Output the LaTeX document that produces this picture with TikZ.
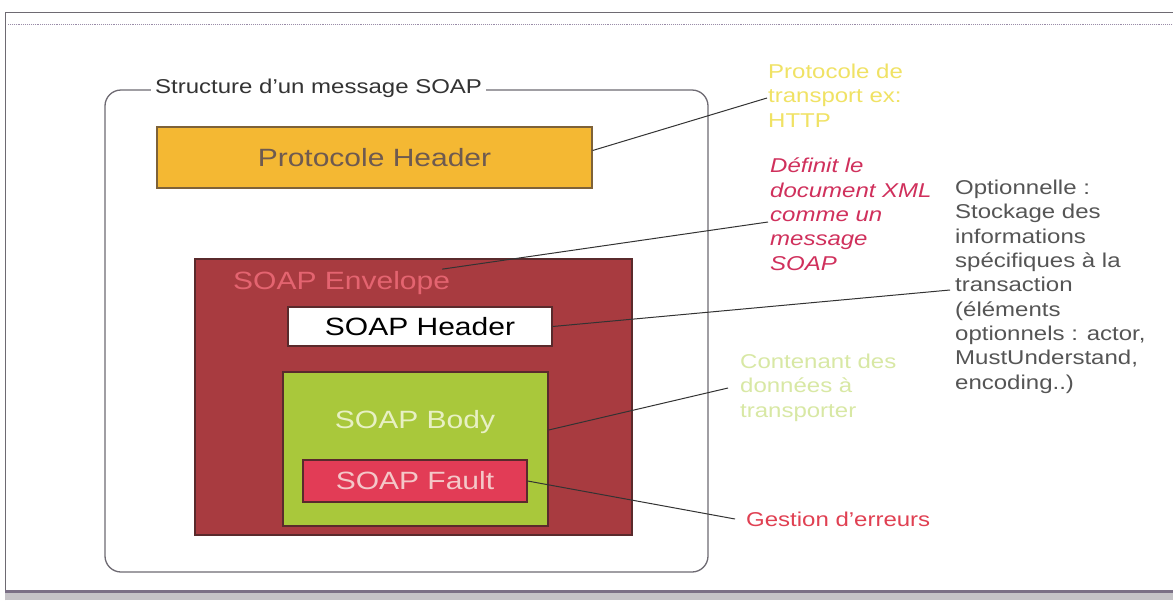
\documentclass[tikz,border=0pt]{standalone}
\usepackage{fontspec}
\setmainfont{Liberation Sans}[FakeStretch=1.2]
\definecolor{framegray}{HTML}{6E6A72}
\definecolor{framepurple}{HTML}{9A8CA8}
\definecolor{linegray}{HTML}{333333}
\definecolor{protofill}{HTML}{F4B833}
\definecolor{protoedge}{HTML}{7E6238}
\definecolor{prototext}{HTML}{6E5A50}
\definecolor{envfill}{HTML}{A83B40}
\definecolor{envedge}{HTML}{5A2A2C}
\definecolor{envtext}{HTML}{E46470}
\definecolor{bodyfill}{HTML}{A9C83B}
\definecolor{bodytext}{HTML}{E8F0C4}
\definecolor{faultfill}{HTML}{E23C56}
\definecolor{faulttext}{HTML}{F4C8C8}
\definecolor{notehttp}{HTML}{F0E264}
\definecolor{notexml}{HTML}{D0305C}
\definecolor{noteopt}{HTML}{555555}
\definecolor{notebody}{HTML}{D8E8A4}
\definecolor{noteerr}{HTML}{E04052}
\begin{document}
\begin{tikzpicture}[x=1pt,y=-1pt,
  part/.style={draw, line width=1.3pt, inner sep=0pt, font=\fontsize{25}{30}\selectfont},
  note/.style={anchor=north west, inner sep=0pt, align=left, font=\fontsize{20}{24.3}\selectfont},
  link/.style={draw=linegray, line width=1pt}]
\useasboundingbox (0,0) rectangle (1173,600);
\fill[white] (0,0) rectangle (1173,600);

% page frame
\draw[framegray, line width=1pt] (5,600) -- (5,12) -- (1173,12);
\draw[framepurple, line width=0.9pt, densely dotted] (8,24) -- (1173,24);
\fill[framegray!40] (5,593) rectangle (1173,600);
\draw[framepurple!80!black, line width=3pt] (5,591.5) -- (1173,591.5);

% message container
\node[draw=framegray, line width=1.3pt, rounded corners=16pt, minimum width=603pt, minimum height=482pt, inner sep=0pt]
  (msg) at (406.5,331) {};
\node[fill=white, inner xsep=4pt, inner ysep=2pt, anchor=west, font=\fontsize{20}{24}\selectfont, text=linegray]
  (title) at (151,88) {Structure d'un message SOAP};

% protocol header
\node[part, draw=protoedge, fill=protofill, text=prototext, minimum width=435pt, minimum height=61pt]
  (ph) at (374.5,157.5) {Protocole Header};

% SOAP envelope and its parts
\node[part, draw=envedge, fill=envfill, minimum width=437pt, minimum height=276pt]
  (env) at (413.5,397) {};
\node[anchor=west, inner sep=0pt, text=envtext, font=\fontsize{25}{30}\selectfont]
  (envlabel) at (233,283) {SOAP Envelope};
\node[part, draw=envedge, fill=white, text=black, minimum width=264pt, minimum height=39pt]
  (sh) at (420,326.5) {SOAP Header};
\node[part, draw=envedge, fill=bodyfill, minimum width=265pt, minimum height=154pt]
  (body) at (415.5,449) {};
\node[inner sep=0pt, text=bodytext, font=\fontsize{25}{30}\selectfont]
  (bodylabel) at (415,422) {SOAP Body};
\node[part, draw=envedge, fill=faultfill, text=faulttext, minimum width=224pt, minimum height=42pt]
  (fault) at (415,481) {SOAP Fault};

% side notes
\node[note, text=notehttp] (nhttp) at (768,64) {Protocole de\\transport ex:\\HTTP};
\node[note, text=notexml, font=\fontsize{20}{24.3}\selectfont\itshape] (nxml) at (770,158) {Définit le\\document XML\\comme un\\message\\SOAP};
\node[note, text=noteopt] (nopt) at (955,180) {Optionnelle :\\Stockage des\\informations\\spécifiques à la\\transaction\\(éléments\\optionnels : actor,\\MustUnderstand,\\encoding..)};
\node[note, text=notebody] (nbody) at (740,354) {Contenant des\\données à\\transporter};
\node[note, text=noteerr] (nerr) at (746,512) {Gestion d'erreurs};

% connector ends beside the notes
\coordinate (ehttp) at (767,98);
\coordinate (exml) at (768,222);
\coordinate (eopt) at (950,290);
\coordinate (ebody) at (728,388);
\coordinate (eerr) at (735,519);

% connectors
\draw[link] ([yshift=7pt]ph.east) -- (ehttp);
\draw[link] ([xshift=-8pt,yshift=2pt]envlabel.north east) -- (exml);
\draw[link] (sh.east) -- (eopt);
\draw[link] ([yshift=19pt]body.east) -- (ebody);
\draw[link] (fault.east) -- (eerr);
\end{tikzpicture}
\end{document}
